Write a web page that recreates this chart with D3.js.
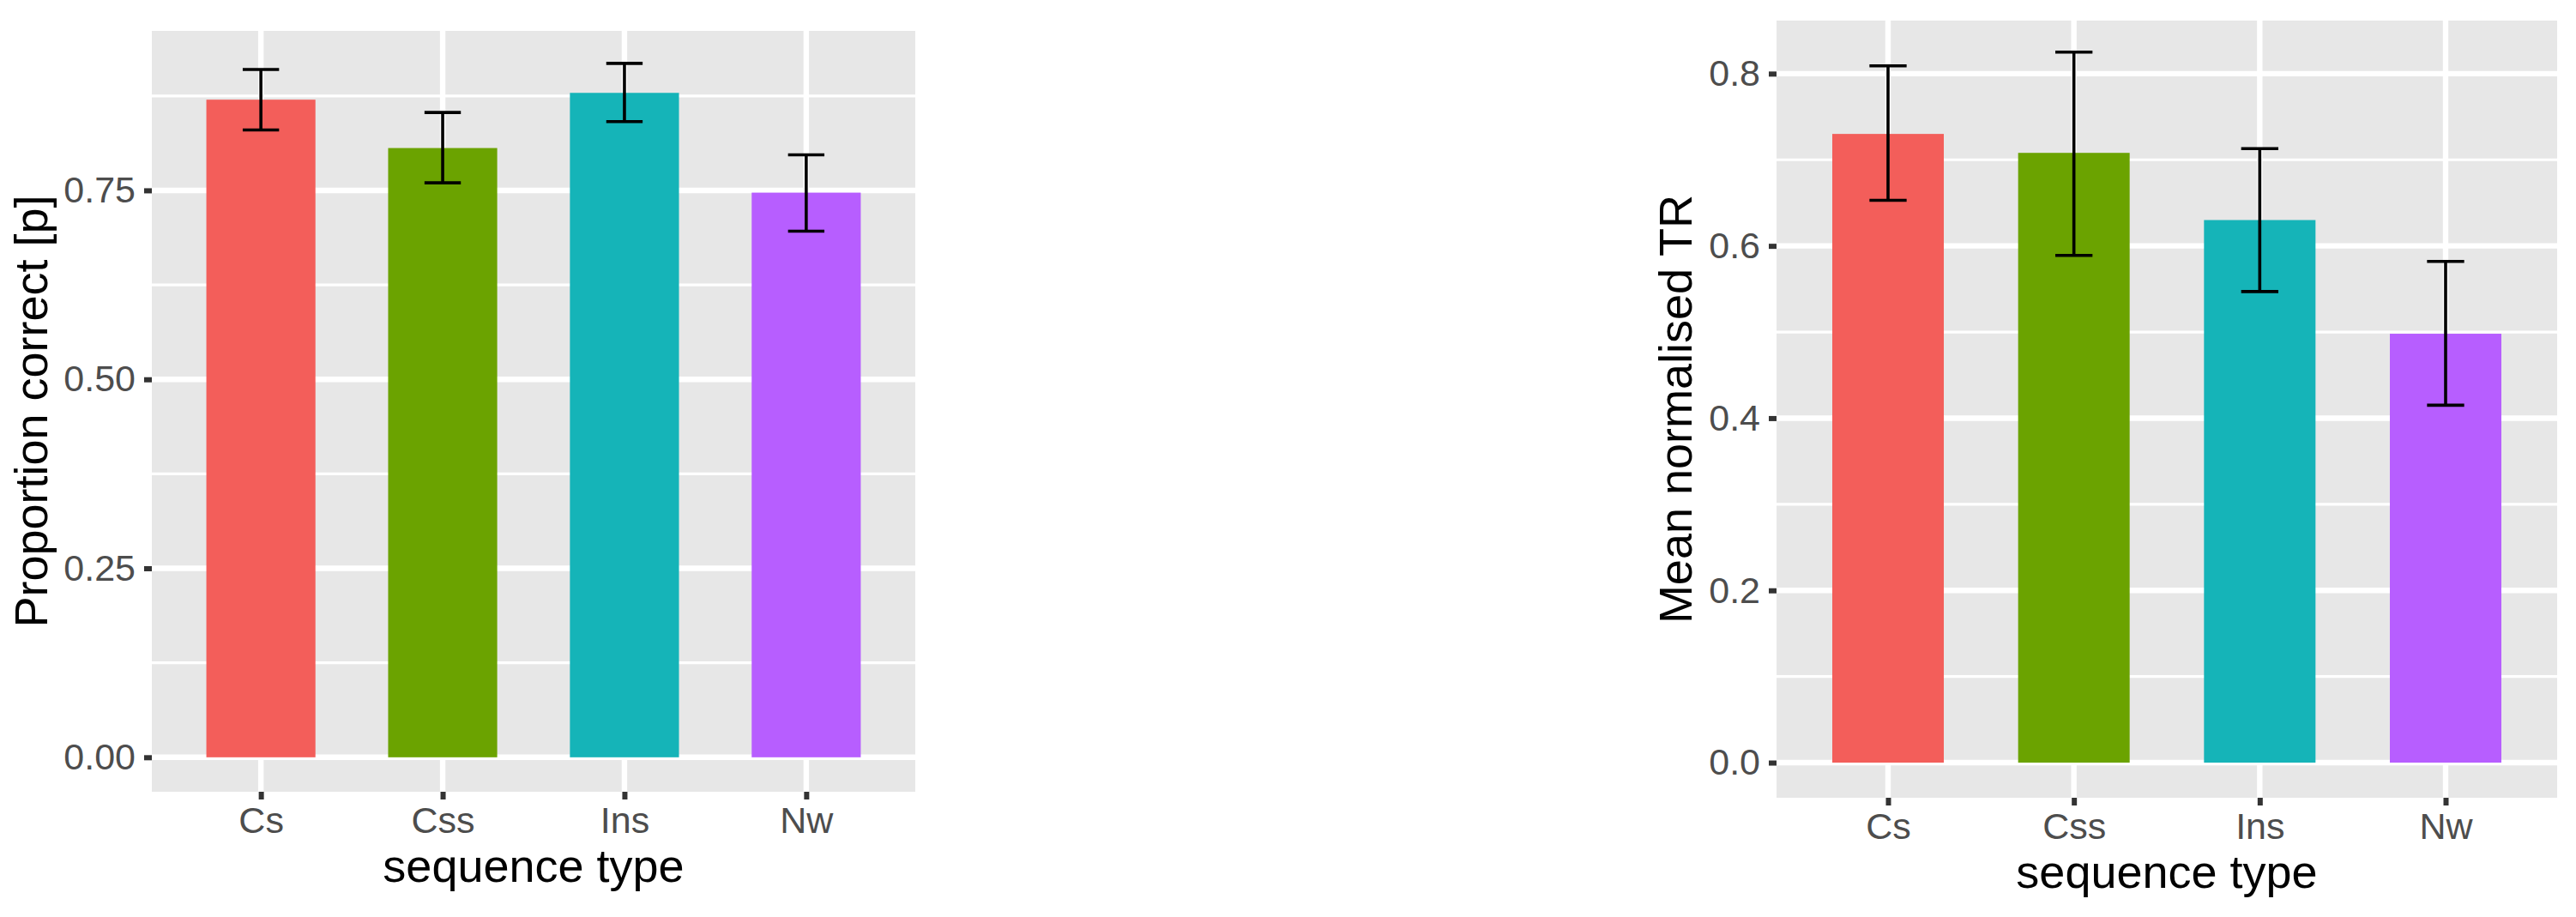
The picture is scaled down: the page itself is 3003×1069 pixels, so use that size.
<!DOCTYPE html>
<html>
<head>
<meta charset="utf-8">
<script src="https://cdn.jsdelivr.net/npm/d3@7"></script>
<style>
  html, body { margin: 0; padding: 0; background: #ffffff; }
  svg { display: block; }
  text { font-family: "Liberation Sans", Arial, Helvetica, sans-serif; }
</style>
</head>
<body>
<svg id="chart" width="3003" height="1069"></svg>
<script>
// ---------- data ----------
const categories = ["Cs", "Css", "Ins", "Nw"];
const barColors = ["#F35E5A", "#6BA300", "#15B4B8", "#B75EFF"];

const propMean = [0.870, 0.806, 0.879, 0.747];
const propLow  = [0.830, 0.760, 0.841, 0.696];
const propHigh = [0.910, 0.853, 0.918, 0.797];

const trMean = [0.730, 0.708, 0.630, 0.498];
const trLow  = [0.653, 0.589, 0.547, 0.415];
const trHigh = [0.809, 0.825, 0.713, 0.582];

const propMajorTicks = [0, 0.25, 0.5, 0.75];
const propTickLabels = ["0.00", "0.25", "0.50", "0.75"];
const propMinorTicks = [0.125, 0.375, 0.625, 0.875];

const trMajorTicks = [0, 0.2, 0.4, 0.6, 0.8];
const trTickLabels = ["0.0", "0.2", "0.4", "0.6", "0.8"];
const trMinorTicks = [0.1, 0.3, 0.5, 0.7];

const xTitle = "sequence type";
const propTitle = "Proportion correct [p]";
const trTitle = "Mean normalised TR";

// ---------- drawing ----------
const svg = d3.select("#chart");

function panel(cfg) {
  const g = svg.append("g");
  const x = d3.scalePoint().domain(categories).range([cfg.x0, cfg.x1]).padding(0.6);
  const step = x.step();
  const y = d3.scaleLinear().domain(cfg.domain).range([cfg.y1, cfg.y0]);

  // background
  g.append("rect").attr("x", cfg.x0).attr("y", cfg.y0)
    .attr("width", cfg.x1 - cfg.x0).attr("height", cfg.y1 - cfg.y0)
    .attr("fill", "#E7E7E7");

  // minor grid
  g.selectAll(".minor").data(cfg.minor).enter().append("line")
    .attr("x1", cfg.x0).attr("x2", cfg.x1)
    .attr("y1", d => y(d)).attr("y2", d => y(d))
    .attr("stroke", "#ffffff").attr("stroke-width", 3.2);

  // major grid horizontal
  g.selectAll(".majorH").data(cfg.major).enter().append("line")
    .attr("x1", cfg.x0).attr("x2", cfg.x1)
    .attr("y1", d => y(d)).attr("y2", d => y(d))
    .attr("stroke", "#ffffff").attr("stroke-width", 6.4);

  // major grid vertical
  g.selectAll(".majorV").data(categories).enter().append("line")
    .attr("x1", d => x(d)).attr("x2", d => x(d))
    .attr("y1", cfg.y0).attr("y2", cfg.y1)
    .attr("stroke", "#ffffff").attr("stroke-width", 6.4);

  // bars
  const bw = step * 0.6;
  g.selectAll(".bar").data(categories).enter().append("rect")
    .attr("x", d => x(d) - bw / 2)
    .attr("width", bw)
    .attr("y", (d, i) => y(cfg.mean[i]))
    .attr("height", (d, i) => y(0) - y(cfg.mean[i]))
    .attr("fill", (d, i) => barColors[i]);

  // error bars
  const cw = step * 0.2;
  const eb = g.selectAll(".eb").data(categories).enter().append("g");
  eb.append("line")
    .attr("x1", d => x(d)).attr("x2", d => x(d))
    .attr("y1", (d, i) => y(cfg.low[i])).attr("y2", (d, i) => y(cfg.high[i]))
    .attr("stroke", "#000").attr("stroke-width", 3.6);
  eb.append("line")
    .attr("x1", d => x(d) - cw / 2).attr("x2", d => x(d) + cw / 2)
    .attr("y1", (d, i) => y(cfg.low[i])).attr("y2", (d, i) => y(cfg.low[i]))
    .attr("stroke", "#000").attr("stroke-width", 3.6);
  eb.append("line")
    .attr("x1", d => x(d) - cw / 2).attr("x2", d => x(d) + cw / 2)
    .attr("y1", (d, i) => y(cfg.high[i])).attr("y2", (d, i) => y(cfg.high[i]))
    .attr("stroke", "#000").attr("stroke-width", 3.6);

  // y axis
  const yAxis = d3.axisLeft(y).tickValues(cfg.major)
    .tickFormat((d, i) => cfg.labels[i]).tickSize(9).tickPadding(10);
  const ya = g.append("g").attr("transform", `translate(${cfg.x0},0)`).call(yAxis);
  ya.select(".domain").remove();
  ya.selectAll(".tick line").attr("stroke", "#333333").attr("stroke-width", 6);
  ya.selectAll(".tick text").attr("fill", "#4D4D4D").attr("font-size", 43)
    .attr("font-family", "Liberation Sans, Arial, sans-serif");

  // x axis
  const xAxis = d3.axisBottom(x).tickSize(9).tickPadding(8);
  const xa = g.append("g").attr("transform", `translate(0,${cfg.y1})`).call(xAxis);
  xa.select(".domain").remove();
  xa.selectAll(".tick line").attr("stroke", "#333333").attr("stroke-width", 6);
  xa.selectAll(".tick text").attr("fill", "#4D4D4D").attr("font-size", 43)
    .attr("font-family", "Liberation Sans, Arial, sans-serif");

  // axis titles
  g.append("text").attr("x", (cfg.x0 + cfg.x1) / 2).attr("y", cfg.y1 + 105)
    .attr("text-anchor", "middle").attr("font-size", 54).attr("fill", "#000")
    .text(xTitle);
  g.append("text")
    .attr("transform", `translate(${cfg.titleX},${(cfg.y0 + cfg.y1) / 2}) rotate(-90)`)
    .attr("text-anchor", "middle").attr("font-size", 54).attr("fill", "#000")
    .text(cfg.title);
}

panel({
  x0: 177, x1: 1067, y0: 36, y1: 923,
  domain: [-0.0456, 0.961],
  mean: propMean, low: propLow, high: propHigh,
  major: propMajorTicks, labels: propTickLabels, minor: propMinorTicks,
  title: propTitle, titleX: 55
});

panel({
  x0: 2071, x1: 2981, y0: 24, y1: 930,
  domain: [-0.0408, 0.8616],
  mean: trMean, low: trLow, high: trHigh,
  major: trMajorTicks, labels: trTickLabels, minor: trMinorTicks,
  title: trTitle, titleX: 1972
});
</script>
</body>
</html>
